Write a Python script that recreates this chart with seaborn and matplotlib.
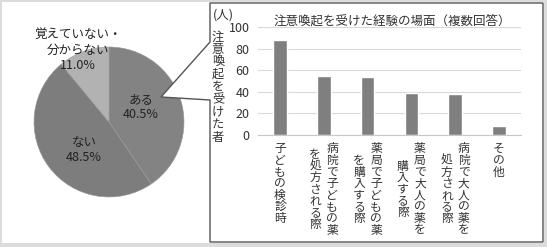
import matplotlib
matplotlib.use("Agg")
import matplotlib.pyplot as plt
import matplotlib.transforms as mtransforms
from matplotlib.patches import Polygon, Rectangle
import seaborn as sns
import pandas as pd

# ---------------- data ----------------
pie_labels = ["ある", "ない", "覚えていない・\n分からない"]
pie_values = [40.5, 48.5, 11.0]
pie_colors = ["#838383", "#7d7d7d", "#b2b2b2"]

bar_categories = ["子どもの検診時", "病院で子どもの薬\nを処方される際", "薬局で子どもの薬\nを購入する際",
                  "薬局で大人の薬を\n購入する際", "病院で大人の薬を\n処方される際", "その他"]
bar_values = [88, 55, 54, 39, 38, 8]
y_ticks = [0, 20, 40, 60, 80, 100]
title = "注意喚起を受けた経験の場面（複数回答）"
y_label = "注意喚起を受けた者"
unit_label = "(人)"

# ---------------- style ----------------
sns.set_style("white")
plt.rcParams['font.family'] = ['Noto Sans CJK JP', 'DejaVu Sans']

W, H = 547, 247
fig = plt.figure(figsize=(W / 100, H / 100), dpi=100)
fig.patch.set_facecolor("#dcdcdc")

def px_axes(left, top, width, height):
    return fig.add_axes([left / W, 1 - (top + height) / H, width / W, height / H])

def overlay():
    a = fig.add_axes([0, 0, 1, 1])
    a.set_xlim(0, W)
    a.set_ylim(H, 0)
    a.axis("off")
    a.patch.set_alpha(0)
    return a

# background
bg = overlay()
bg.add_patch(Rectangle((2, 2), 542, 241, facecolor="white", edgecolor="none"))

# ---------------- pie ----------------
cx, cy, r = 109, 122, 75
pax = px_axes(cx - r, cy - r, 2 * r, 2 * r)
pax.pie(pie_values, colors=pie_colors, startangle=90, counterclock=False, radius=1,
        wedgeprops=dict(edgecolor="#9a9a9a", linewidth=0.4))
pax.set_xlim(-1, 1)
pax.set_ylim(-1, 1)
pax.set_aspect("equal")
pax.axis("off")

def pie_txt(px, py, s):
    pax.text((px - cx) / r, (cy - py) / r, s, ha="center", va="center", fontsize=9,
             color="#222222", linespacing=1.25, clip_on=False)

pie_txt(141, 107, f"{pie_labels[0]}\n{pie_values[0]:.1f}%")
pie_txt(84, 150, f"{pie_labels[1]}\n{pie_values[1]:.1f}%")
pie_txt(78, 50, f"{pie_labels[2]}\n{pie_values[2]:.1f}%")

# callout on top of pie
ov = overlay()
callout = Polygon([(210, 3), (543, 3), (543, 242), (210, 242), (210, 100), (161, 97), (210, 42)],
                  closed=True, facecolor="white", edgecolor="#555555", linewidth=1.0)
ov.add_patch(callout)

# ---------------- bar chart ----------------
bx0, bx1, by_top, by0 = 258, 521, 27, 135
bax = px_axes(bx0, by_top, bx1 - bx0, by0 - by_top)
df = pd.DataFrame({"cat": bar_categories, "val": bar_values})
sns.barplot(data=df, x="cat", y="val", color="#7f7f7f", saturation=1, width=0.31, ax=bax)
bax.set_xlim(-0.5, len(bar_categories) - 0.5)
bax.set_ylim(0, 100)
bax.set_yticks(y_ticks)
bax.set_yticklabels([str(t) for t in y_ticks], fontsize=9, color="#333333")
bax.tick_params(axis="y", length=0, pad=6)
bax.tick_params(axis="x", length=0, labelbottom=False)
bax.set_xlabel("")
bax.set_ylabel("")
bax.grid(axis="y", color="#d9d9d9", linewidth=0.8)
bax.set_axisbelow(True)
for s in ["top", "right", "left"]:
    bax.spines[s].set_visible(False)
bax.spines["bottom"].set_color("#c8c8c8")
bax.spines["bottom"].set_linewidth(0.8)
bax.patch.set_alpha(0)

# title & unit
ov.text(392, 21, title, ha="center", va="center", fontsize=9, color="#333333")
ov.text(223, 15, unit_label, ha="center", va="center", fontsize=9, color="#333333")

# vertical y label
for i, ch in enumerate(y_label):
    ov.text(218, 37 + i * 12.5, ch, ha="center", va="center", fontsize=8.8, color="#333333")

# vertical x tick labels
blend = mtransforms.blended_transform_factory(bax.transData, ov.transData)
pitch = 11.6
top = 143
sep = 17
for i, lab in enumerate(bar_categories):
    cols = lab.split("\n")
    n = len(cols)
    maxlen = max(len(c) for c in cols)
    for j, col in enumerate(cols):
        dx = (n - 1) / 2 * sep - j * sep
        tr = mtransforms.offset_copy(blend, fig=fig, x=dx, y=0, units="dots")
        start = top + (maxlen - len(col)) * pitch / 2
        for k, ch in enumerate(col):
            ov.text(i, start + (k + 0.5) * pitch, ch, transform=tr, ha="center", va="center",
                    fontsize=8.5, color="#333333")

fig.savefig("out.png", dpi=100)
